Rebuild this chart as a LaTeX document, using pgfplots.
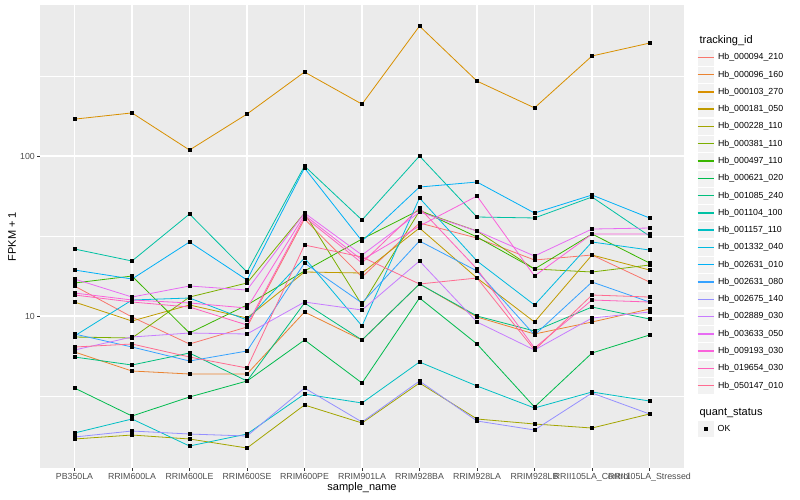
\documentclass[border=0pt]{standalone}
\usepackage{fontspec}
\setmainfont{Liberation Sans}
\usepackage{pgfplots}
\pgfplotsset{compat=1.18}
\usepackage{pgfplotstable}

% ggplot hue palette, 20 levels
\definecolor{c1}{HTML}{F8766D}
\definecolor{c2}{HTML}{EA8331}
\definecolor{c3}{HTML}{D89000}
\definecolor{c4}{HTML}{C09B00}
\definecolor{c5}{HTML}{A3A500}
\definecolor{c6}{HTML}{7CAE00}
\definecolor{c7}{HTML}{39B600}
\definecolor{c8}{HTML}{00BB4E}
\definecolor{c9}{HTML}{00BF7D}
\definecolor{c10}{HTML}{00C1A3}
\definecolor{c11}{HTML}{00BFC4}
\definecolor{c12}{HTML}{00BAE0}
\definecolor{c13}{HTML}{00B0F6}
\definecolor{c14}{HTML}{35A2FF}
\definecolor{c15}{HTML}{9590FF}
\definecolor{c16}{HTML}{C77CFF}
\definecolor{c17}{HTML}{E76BF3}
\definecolor{c18}{HTML}{FA62DB}
\definecolor{c19}{HTML}{FF62BC}
\definecolor{c20}{HTML}{FF6C91}
\definecolor{panelbg}{HTML}{EBEBEB}
\definecolor{keybg}{HTML}{F2F2F2}
\definecolor{ticklab}{HTML}{4D4D4D}
\definecolor{tickcol}{HTML}{333333}

% FPKM + 1, one row per sample, one column per tracking_id
\pgfplotstableread{
x  s1    s2    s3  s4    s5    s6    s7    s8    s9    s10   s11   s12   s13   s14   s15   s16   s17   s18   s19   s20
0  15.40 5.957 170 12.23 1.703 7.392 16.08 3.548 5.543 26.23 1.857 7.499 19.39 7.718 1.753 6.131 17.03 13.92 13.53 6.401
1  9.857 4.532 186 9.306 1.804 7.286 17.78 2.371 4.940 22.07 2.271 12.59 17.03 6.401 1.911 7.392 13.14 12.59 12.23 6.684
2  6.684 4.340 109 11.72 1.703 13.14 7.830 3.117 5.872 43.40 1.540 12.96 29.01 5.233 1.830 7.830 15.40 12.06 11.38 5.543
3  8.536 4.340 183 9.716 1.496 16.08 11.72 3.924 3.924 18.84 1.830 9.440 16.79 6.043 1.778 7.718 14.54 11.22 8.785 4.732
4  40.39 10.59 335 18.84 2.778 44.03 19.11 7.080 12.06 86.60 3.255 23.04 84.14 21.44 3.548 12.23 44.03 42.78 41.57 27.78
5  17.53 7.080 211 18.57 2.144 11.72 30.29 3.813 7.080 39.81 2.859 8.660 29.43 12.06 2.175 10.90 24.06 22.39 21.44 23.38
6  38.13 15.85 649 35.48 3.813 45.32 46.00 12.96 15.85 100.0 5.158 54.64 64.01 29.43 3.924 22.07 44.67 36.52 47.31 15.85
7  30.72 9.857 294 17.28 2.271 33.98 31.17 6.684 10.00 41.57 3.652 22.07 68.78 19.11 2.207 9.173 33.98 56.23 19.67 17.28
8  22.39 7.718 200 9.173 2.114 19.67 19.67 2.699 8.059 41.00 2.661 11.72 44.03 7.607 1.939 6.131 23.71 17.78 6.310 6.131
9  24.06 9.173 422 24.06 1.995 18.84 32.55 5.872 11.38 55.43 3.350 29.01 57.05 16.31 3.302 9.716 34.97 32.55 12.59 13.53
10 16.31 11.06 508 19.39 2.441 20.83 21.44 7.608 9.578 31.62 2.943 25.85 41.00 12.23 2.441 10.59 35.48 32.55 12.23 13.14
}\fpkm

\pgfplotsset{
  ggkey/.style={
    draw=none, fill=none, inner sep=0pt, outer sep=0pt,
    row sep=0pt, column sep=3pt,
    font=\fontsize{8.8}{10}\selectfont,
    nodes={inner sep=0pt}, cells={anchor=west},
  },
}

\begin{document}
\begin{tikzpicture}
\useasboundingbox (-40pt,-32pt) rectangle (760pt,468pt);
\begin{axis}[
  scale only axis, width=644pt, height=463pt,
  xmin=-0.6, xmax=10.6,
  ymode=log, ymin=1.122, ymax=879,
  axis background/.style={fill=panelbg},
  axis line style={draw=none},
  xtick={0,...,10},
  xticklabels={PB350LA,RRIM600LA,RRIM600LE,RRIM600SE,RRIM600PE,RRIM901LA,RRIM928BA,RRIM928LA,RRIM928LB,RRII105LA\_Control,RRII105LA\_Stressed},
  ytick={10,100}, yticklabels={10,100},
  minor ytick={3.1623,31.623,316.23},
  xmajorgrids, ymajorgrids, yminorgrids,
  major grid style={white, line width=1.1pt},
  minor grid style={white, line width=0.55pt},
  tick pos=left, tick align=outside,
  major tick length=2.75pt, minor tick length=0pt,
  tick style={color=tickcol, line width=0.55pt},
  ticklabel style={font=\fontsize{8.8}{10}\selectfont, text=ticklab},
  xticklabel style={inner sep=0pt, yshift=-2pt},
  yticklabel style={inner sep=0pt, xshift=-2.2pt},
  xlabel={sample\_name}, ylabel={FPKM + 1},
  label style={font=\fontsize{11}{13}\selectfont},
  xlabel style={at={(axis description cs:0.5,0)}, anchor=center, yshift=-20pt},
  ylabel style={at={(axis description cs:-0.0435,0.5)}, anchor=center},
  legend style={ggkey, at={(axis description cs:1,1)}, anchor=north west, xshift=13pt, yshift=-43.7pt},
  legend cell align=left,
  legend image code/.code={
    \fill[keybg, draw=white, line width=0.4pt] (0pt,-8.44pt) rectangle (17.28pt,8.44pt);
    \draw[#1, solid, line width=1.4pt] (0.3pt,0pt) -- (16.98pt,0pt);
  },
  legend entries={Hb\_000094\_210,Hb\_000096\_160,Hb\_000103\_270,Hb\_000181\_050,Hb\_000228\_110,Hb\_000381\_110,Hb\_000497\_110,Hb\_000621\_020,Hb\_001085\_240,Hb\_001104\_100,Hb\_001157\_110,Hb\_001332\_040,Hb\_002631\_010,Hb\_002631\_080,Hb\_002675\_140,Hb\_002889\_030,Hb\_003633\_050,Hb\_009193\_030,Hb\_019654\_030,Hb\_050147\_010},
]
\pgfplotsinvokeforeach{1,...,20}{
  \addplot[color=c#1, line width=0.8pt] table[x=x, y=s#1] {\fpkm};
}
\pgfplotsinvokeforeach{1,...,20}{
  \addplot[forget plot, only marks, mark=square*, mark size=1.5pt, black] table[x=x, y=s#1] {\fpkm};
}
\end{axis}

% second legend: quant_status
\begin{axis}[
  scale only axis, width=644pt, height=463pt,
  hide axis, xmin=0, xmax=1, ymin=0, ymax=1,
  legend style={ggkey, at={(axis description cs:1,1)}, anchor=north west, xshift=13pt, yshift=-415.4pt},
  legend cell align=left,
  legend image code/.code={
    \fill[keybg, draw=white, line width=0.4pt] (0pt,-8.44pt) rectangle (17.28pt,8.44pt);
    \draw[#1] plot coordinates {(8.64pt,0pt)};
  },
]
\addlegendimage{only marks, mark=square*, mark size=1.5pt, black}
\addlegendentry{OK}
\end{axis}

\node[anchor=base west, font=\fontsize{11}{13}\selectfont] at (656pt,424pt) {tracking\_id};
\node[anchor=base west, font=\fontsize{11}{13}\selectfont] at (656pt,52pt) {quant\_status};
\end{tikzpicture}
\end{document}
